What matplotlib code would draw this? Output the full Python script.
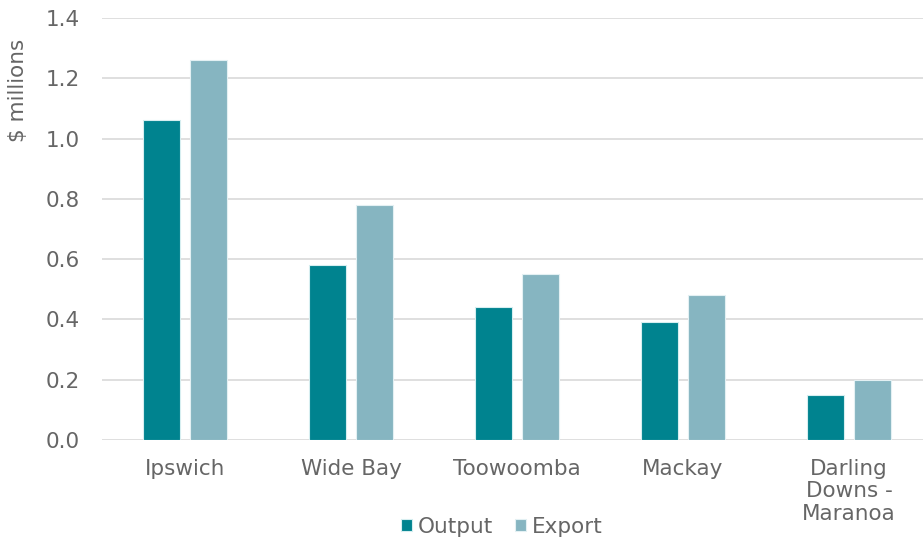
import numpy as np
import matplotlib.pyplot as plt
from matplotlib import rcParams
rcParams['font.family'] = ['DejaVu Sans']

regions = ['Ipswich', 'Wide Bay', 'Toowoomba', 'Mackay', 'Darling\nDowns -\nMaranoa']
output = [1.06, 0.58, 0.44, 0.39, 0.15]
export = [1.26, 0.78, 0.55, 0.48, 0.20]

ind = np.arange(len(regions))
width = 0.223
gap = 0.06
grey = '#666666'
fs = 15.5

fig = plt.figure(figsize=(9.23, 5.42), dpi=100)
ax = fig.add_axes([102 / 923, 102 / 542, 821 / 923, 422 / 542])

ax.bar(ind - (width + gap) / 2, output, width, color='#00838F',
       edgecolor='#d6eef0', linewidth=0.8, label='Output', zorder=3)
ax.bar(ind + (width + gap) / 2, export, width, color='#86B5C1',
       edgecolor='#e3f0f3', linewidth=0.8, label='Export', zorder=3)

ax.set_xlim(-0.5, -0.5 + 821 / 166)
ax.set_ylim(0, 1.4)
ax.set_yticks(np.arange(0, 1.41, 0.2))
ax.set_yticklabels(['%.1f' % v for v in np.arange(0, 1.41, 0.2)])
ax.set_xticks(ind)
ax.set_xticklabels([])

# category names, top-aligned under each group
for i, name in zip(ind, regions):
    ax.annotate(name, xy=(i, 0), xycoords=('data', 'axes fraction'),
                xytext=(0, -19), textcoords='offset pixels',
                ha='center', va='top', fontsize=fs, color=grey,
                linespacing=1.15)

ax.grid(axis='y', color='#d9d9d9', linewidth=1.2, zorder=0)
for s in ax.spines.values():
    s.set_visible(False)
ax.tick_params(length=0, colors=grey, labelsize=fs)
ax.tick_params(axis='y', pad=16)

fig.text(18 / 923, 1 - 90 / 542, '\\$ millions', rotation=90, ha='center',
         va='center', fontsize=fs, color=grey)

leg = fig.legend(loc='center', bbox_to_anchor=(502 / 923, 1 - 527 / 542), ncol=2,
                 frameon=False, fontsize=fs, handlelength=0.5, handleheight=0.5,
                 handletextpad=0.3, columnspacing=1.0, borderpad=0)
for t in leg.get_texts():
    t.set_color(grey)

fig.savefig('out.png', dpi=100)
